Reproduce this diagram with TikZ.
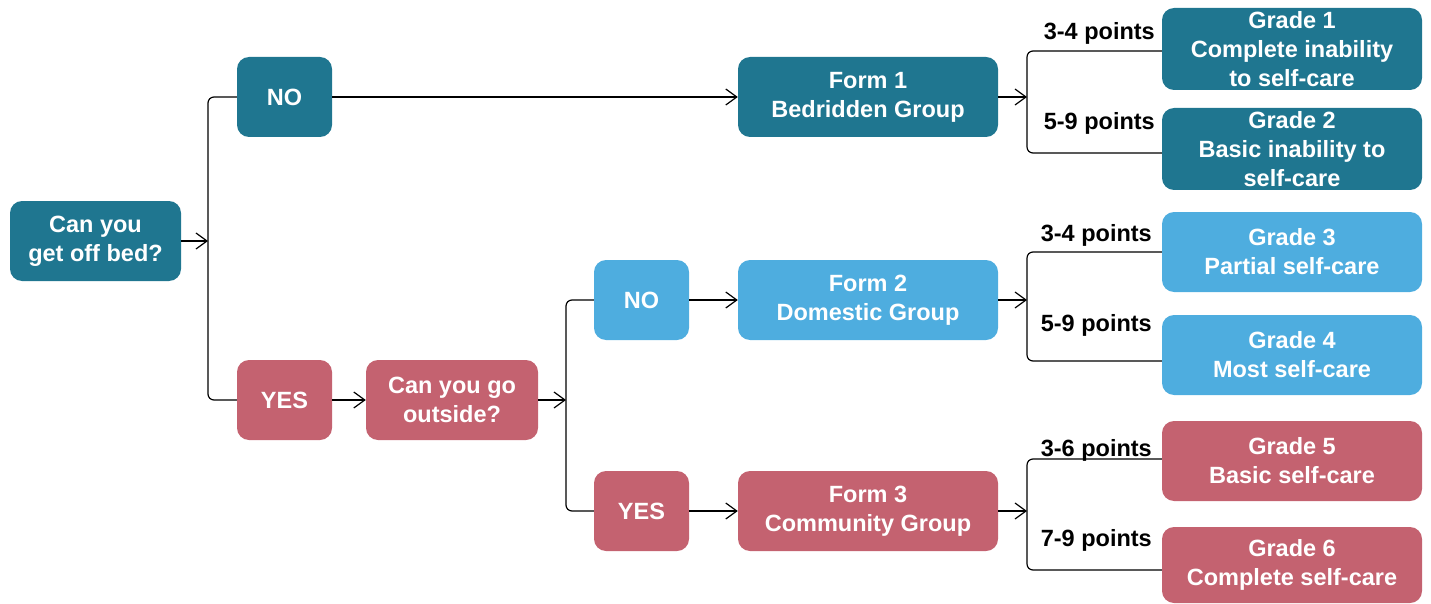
\documentclass[tikz,border=0pt]{standalone}
\usepackage{fontspec}
\setmainfont{Liberation Sans}
\usetikzlibrary{arrows.meta}
\definecolor{teal}{HTML}{1F7690}
\definecolor{lblue}{HTML}{4EADDF}
\definecolor{rose}{HTML}{C46270}
\tikzset{
  box/.style={rounded corners=12pt, inner sep=0pt, align=center, text=white,
    font=\fontsize{23.5}{29}\selectfont\bfseries},
  tealbox/.style={box, fill=teal},
  bluebox/.style={box, fill=lblue},
  rosebox/.style={box, fill=rose},
  link/.style={line width=1.2pt, black},
  arr/.style={link, -{Straight Barb[length=11pt,width=16pt,line width=1.2pt]}},
  brace/.style={link, rounded corners=6pt},
  pts/.style={anchor=east, font=\fontsize{23.5}{27}\selectfont\bfseries, inner sep=0pt}
}
\newcommand{\bx}[6]{% style, name, x1, y1, x2, y2 -> text follows
  \node[#1, minimum width=#5-#3, minimum height=#6-#4] (#2) at ({(#3+#5)/2},{(#4+#6)/2})}
\begin{document}
\begin{tikzpicture}[x=1pt,y=-1pt]
\useasboundingbox (0,0) rectangle (1431,604);
% boxes
\bx{tealbox}{q1}{10}{201}{181}{281} {Can you\\get off bed?};
\bx{tealbox}{no1}{237}{57}{332}{137} {NO};
\bx{rosebox}{yes1}{237}{360}{332}{440} {YES};
\bx{rosebox}{q2}{366}{360}{538}{440} {Can you go\\outside?};
\bx{bluebox}{no2}{594}{260}{689}{340} {NO};
\bx{rosebox}{yes2}{594}{471}{689}{551} {YES};
\bx{tealbox}{f1}{738}{57}{998}{137} {Form 1\\Bedridden Group};
\bx{bluebox}{f2}{738}{260}{998}{340} {Form 2\\Domestic Group};
\bx{rosebox}{f3}{738}{471}{998}{551} {Form 3\\Community Group};
\bx{tealbox}{g1}{1162}{8}{1422}{90} {Grade 1\\Complete inability\\to self-care};
\bx{tealbox}{g2}{1162}{108}{1422}{190} {Grade 2\\Basic inability to\\self-care};
\bx{bluebox}{g3}{1162}{212}{1422}{292} {Grade 3\\Partial self-care};
\bx{bluebox}{g4}{1162}{315}{1422}{395} {Grade 4\\Most self-care};
\bx{rosebox}{g5}{1162}{421}{1422}{501} {Grade 5\\Basic self-care};
\bx{rosebox}{g6}{1162}{527}{1422}{603} {Grade 6\\Complete self-care};
% spine coordinates
\coordinate (s1) at (208,241);
\coordinate (s2) at (566,400);
\coordinate (s3) at (1027,97);
\coordinate (s4) at (1027,300);
\coordinate (s5) at (1027,511);
% arrows
\draw[arr] (q1.east) -- (s1);
\draw[brace] (no1.west) -| (s1) |- (yes1.west);
\draw[arr] (no1.east) -- (f1.west);
\draw[arr] (yes1.east) -- (q2.west);
\draw[arr] (q2.east) -- (s2);
\draw[brace] (no2.west) -| (s2) |- (yes2.west);
\draw[arr] (no2.east) -- (f2.west);
\draw[arr] (yes2.east) -- (f3.west);
\draw[arr] (f1.east) -- (s3);
\draw[brace] ([yshift=-2pt]g1.west) -| (s3) |- ([yshift=-4pt]g2.west);
\draw[arr] (f2.east) -- (s4);
\draw[brace] (g3.west) -| (s4) |- ([yshift=-6pt]g4.west);
\draw[arr] (f3.east) -- (s5);
\draw[brace] ([yshift=2pt]g5.west) -| (s5) |- ([yshift=-5pt]g6.west);
% labels
\node[pts] (l1) at (1155,33) {3-4 points};
\node[pts] (l2) at (1155,123) {5-9 points};
\node[pts] (l3) at (1152,235) {3-4 points};
\node[pts] (l4) at (1152,325) {5-9 points};
\node[pts] (l5) at (1152,450) {3-6 points};
\node[pts] (l6) at (1152,540) {7-9 points};
\end{tikzpicture}
\end{document}
